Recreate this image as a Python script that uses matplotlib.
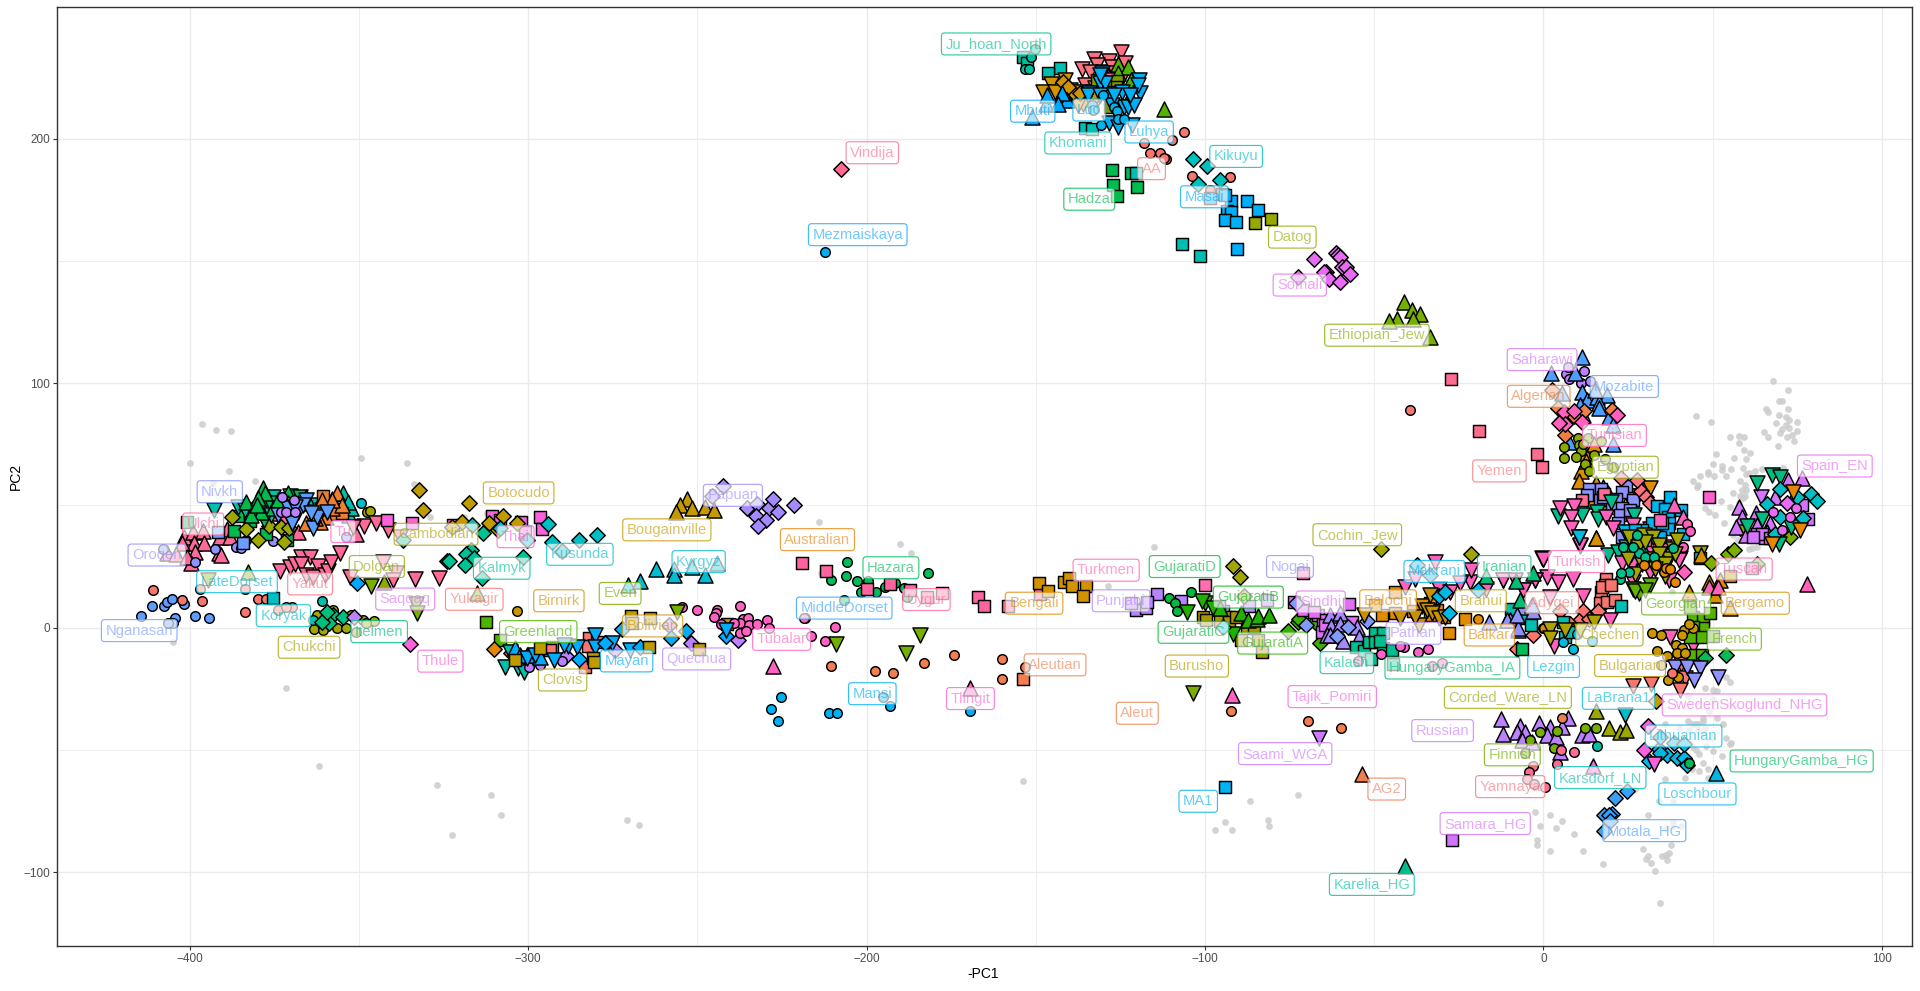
import matplotlib
matplotlib.use('Agg')
import matplotlib.pyplot as plt
from matplotlib.colors import to_rgba

plt.rcParams['font.family'] = ['Liberation Sans', 'DejaVu Sans']

# background samples (small grey dots)
grey_left = [(-396.3,83.2),(-392.1,80.7),(-387.7,80.3),(-399.8,67.2),(-388.3,63.9),(-380.6,59.9),(-393,59.3),
	(-349.3,69.2),(-335.7,67.2),(-333.6,58.9),(-329,45.3),(-318.9,45.4),(-312.2,46.9),(-371.6,-24.5),(-361.8,-56.6),
	(-404.9,-6),(-326.8,-64.4),(-310.9,-68.5),(-307.9,-76.7),(-322.4,-84.9),(-270.7,-78.7),(-267.1,-80.8),(-153.8,-62.6)]
grey_mid = [(-214,43.1),(-190,34.1),(-186.8,30.4),(-128.8,16.9),(-115,32.9),(-213.5,22.5),(-97,-82.6),(-94,-79.6),
	(-92,-82.6),(-86.8,-71),(-81.4,-78.6),(-81,-81),(-72.4,-68.6)]
grey_right = [(67.7,100.7),(72.4,97),(69.7,92.5),(70.4,92.5),(65.9,89.3),(66.5,88.2),(72.4,89.3),(69.7,87.1),(71.6,86.3),
	(72.7,84.8),(74.8,84.3),(68.6,83.6),(71.6,82.7),(70.4,81.4),(72.7,81.5),(74.8,80.3),(65.3,79.9),(70,79.5),(73.3,78.7),
	(66.5,77.8),(71.9,77.8),(73.9,76.2),(69.4,74.2),(45.2,86.4),(49.4,84),(55,77.8),(57.9,78.2),(59.4,77.8),(57.9,75.4),
	(59.4,72.5),(60.9,71.3),(51.1,70.9),(56.4,69.2),(60,68.8),(50.2,66.8),(52.9,66),(55.3,64.8),(52.9,64.4),(48.5,63.5),
	(48.5,62.7),(46.4,61.9),(50.5,61.9),(54,61.9),(59.1,65.2),(60.6,63.1),(60,62.7),(62.4,63.9),(64.5,64.7),(70.9,65.2),
	(44.3,59.8),(45.8,58.2),(45.5,57.6),(58.2,59.8),(59.7,58.2),(58.6,56.2),(60,56.2),(56.1,55),(58.2,53.7),(59.7,54),
	(59,53),(52.6,51.7),(55,49.2),(57.9,50.9),(47.6,48.8),(48.8,47.2),(50.8,46),(53.5,42.7),(56.1,37.8),(57.6,35.7),
	(60.6,32),(61.5,32.4),(63,33),(38.1,14.5)]
grey_low = [(53.8,-20.3),(55,-22.3),(47.6,-24.8),(50.2,-25.6),(51.4,-26),(42.8,-28),(50.2,-29),(48.8,-34.2),(47,-37),
	(42.8,-38.3),(45,-39.5),(47,-38.3),(47.8,-41),(43,-42),(54,-45.2),(55.5,-47),(35.8,-39.5),(44.3,-39.5),(45.8,-39.5),
	(51.4,-37),(53.2,-39.5),(40.2,-41.1),(45.8,-42),(47,-43),(49.7,-45.2),(55,-47.7),(43.4,-47.3),(44.3,-49),(45,-50),
	(48,-48.5),(50.2,-50.5),(52.9,-52.6),(46.1,-51.8),(47,-55.4),(44,-57.9),(46,-58.5),(48.6,-57.9),(36,-62),(41.7,-61.6),
	(48.6,-61.6),(27.2,-66),(34,-71),(38.4,-71),(-2.4,-75.5),(1.8,-76.7),(5.6,-79.2),(-0.9,-81.3),(3.8,-82),(9.1,-84.5),
	(-1.8,-86.9),(-2,-88.9),(1.8,-91.4),(11.8,-91.4),(17.7,-96.7),(31,-76.7),(38.4,-79.6),(40.5,-81.2),(36.3,-82),(38.4,-81),
	(37.8,-89),(29.3,-90.6),(37,-92.2),(36.2,-93),(35,-93.5),(31,-93.5),(30.4,-94.7),(36.5,-95),(31.9,-96.3),(33.1,-99.6),
	(34.3,-112.7)]

# Africa
aa = [(-106.1,202.5),(-109.6,199.3),(-117.9,198),(-116.1,193.9),(-113.2,194.3),(-111.4,191.5),(-112,192),(-103.7,184.9),
	(-92.5,184.1),(-98.4,178.8),(-39.3,89.2)]
hadza = [(-127.4,187),(-122,185.8),(-127.2,181),(-120,180.3),(-125.9,176.4)]
khomani = [(-142.7,228.7),(-146.3,226.7),(-135.4,204.2),(-133.5,203.8),(-120.3,185.8),(-106.8,156.7),(-101.4,151.8)]
juhoan_sq = [(-153.7,233.4),(-152.7,230.8)]
juhoan_ci = [(-151.4,233.2),(-153.2,228.3),(-152,228.3),(-150.2,236.5)]
yoruba = [(-124.8,235.5),(-132.7,232.5),(-128.3,231.9),(-136.3,228.3),(-132,230),(-133.9,227.4),(-130,227.4),(-123.6,230.8),
	(-127.5,229.4),(-130.5,225.3),(-126.5,226.7),(-135.4,221.9),(-128.5,224),(-124.6,224.6),(-132.4,220.5)]
gold_down_af = [(-145.5,222.5),(-148,219.1),(-141.3,224.1),(-144.3,219.1),(-139.8,219.8),(-135.9,214.3),(-137.4,213.6),
	(-132.5,214.3),(-136.9,219.1),(-133,219)]
gold_dia_af = [(-142,223.2),(-139,219.1),(-140.6,221.1),(-136.9,218.7),(-132.9,217)]
green_up_af = [(-125.6,230.7),(-122.6,229.3),(-125.6,226.9),(-122,223.9),(-122.1,217.3),(-112,212.1)]
olive_sq_af = [(-132,223.9),(-126,223.5),(-126.3,221.1),(-128,213),(-129.5,221),(-128.5,219)]
luhya = [(-130.5,226.7),(-131,222.6),(-134.4,218.5),(-124.6,219.2),(-119.3,218.5),(-119.6,224),(-128,217.1),(-124,213),
	(-122.6,212.8),(-121.1,213.7),(-128.5,206.2),(-125.6,204.6),(-121.6,205.6),(-129.5,222.6),(-127.5,213.7),(-119.7,221.9),
	(-134.7,217.7),(-131,225.9),(-131,217.7),(-127,217.7),(-122.1,217.7)]
luo = [(-127,213),(-126,211.4),(-125.7,207.9),(-130.7,205.4),(-124,207.9),(-130,217.8),(-133.4,213.7),(-133,211.7)]
mbuti = [(-151.2,208.9),(-146.9,214.3),(-140.8,215.7),(-142.3,218.7),(-146.7,217.7),(-143.3,214.3)]
masai = [(-92.4,174.6),(-87.6,174.3),(-84.3,170.9),(-93.4,170.4),(-92.2,170.1),(-94,166.8),(-90.7,166),(-90.5,155),
	(-95.1,177.3),(-98.5,175.6),(-94,176.9)]
datog = [(-85.2,165.6),(-80.6,167)]
kikuyu = [(-103.6,191.7),(-99.4,188.8),(-95.7,183),(-102.2,181.3)]
somali = [(-67.9,150.6),(-61.2,153.1),(-60.7,152.4),(-60,151.4),(-59.6,147.4),(-58.3,147.4),(-57.1,144.5),(-64.2,145.3),
	(-64.7,145.3),(-63.4,142.4),(-60,141.2),(-72.4,143.3)]
vindija = [(-207.6,187.7)]
mezmaiskaya = [(-212.4,153.8)]
ethiopian_jew = [(-41.1,133.2),(-38.9,129.8),(-36.4,128.2),(-43.3,126.2),(-38.6,126.3),(-45.5,125.5),(-33.6,118.7)]
yemen = [(-27.3,101.5),(-19,80.6),(-2,71),(-0.5,65.8)]

# north Africa, Near East, Europe
saharawi = [(6.6,103.7),(7.7,101.5),(12.1,104.9),(11.2,100),(13.8,101),(7.4,106.7)]
mozabite = [(11.4,110.5),(2.1,104.2),(9.2,104.2),(5.5,96),(11.4,96.5),(12.8,93),(15.8,94.4),(18.7,95.1),(16.3,91.7),
	(16.4,89.7),(19.5,86),(20.7,82.8),(10.9,91),(11.8,87),(15.3,97.2),(20.5,75),(7.7,76)]
algerian = [(2.4,97.3),(4.2,89.7),(12.1,88.8),(8.9,86.4),(20.2,89.2),(6.5,78.6),(5.4,84.9)]
tunisian = [(6.2,88),(8.9,88.7),(11.5,83.9),(6.5,83.1),(4.7,83.5),(21.7,86.8)]
egyptian = [(10.1,77.4),(6.2,73.7),(10.4,74.5),(11,72.1),(14.8,70.8),(6.2,69.2),(9.5,69.6),(12.4,66.8),(13.6,63.9),
	(13.3,77.4),(17,76.2),(18.3,68.8),(20.7,65.5),(11.8,75.3)]
orange_up_ne = [(11.2,63.9),(10.5,59.8),(14.6,51.9),(15.6,36.5),(12.4,71.3),(12.7,68.3),(15.6,59),(17.7,57.6),(19.2,54.9),(14.8,75.3)]
peri_sq = [(13.5,56.9),(12.8,54.1),(17.1,56.5),(16.8,52.2),(24.4,58),(23.2,55.6),(21.5,52.8),(26.6,52.4),(20.2,48.8),
	(23.2,48.8),(22.7,46),(25.6,48.1),(21.9,42.9),(23.2,37.2),(17.7,53.5)]
gold_tri_ne = [(30,56),(31.5,57),(28,54),(17,50),(19,47),(22,50),(25,54)]
salmon_sq_ne = [(18,54.8),(11.5,52)]
pink_dia_ne = [(28.7,55.9),(30.4,53.3),(31.6,50.8),(23,61),(27.6,60.4)]
turkish = [(5,49),(8.9,49.9),(8,45.4),(8.1,40.6),(10.9,33.4),(18.5,45.4),(20.7,40.6),(26.4,41.8),(31.5,40.2),(-0.3,28.3),
	(35.5,32.8),(31.5,32.4),(40.4,28.3),(23.2,26.3),(26.1,25.6),(31.5,22.9),(40.2,27.6),(37.2,19.5),(26.6,18.8),(-0.2,27.9),
	(1,20.8),(4.4,18.8),(-2.5,19.5),(-11.8,19.5),(-5.9,15.4),(8.7,20.1),(11.8,13),(2,12.6),(19.7,3.1),(37.4,-4),(44.3,-7.5),
	(3.2,-7.5),(10.8,33.8),(-40.8,16.7),(-32,27),(-31,16),(-27.5,14.7),(-21.6,18.5),(-21.4,23.6),(-17,16),(-11.8,19.5),
	(-8.3,19.5),(-5.9,15.4),(-2.4,19.5),(0,27.9),(-37.9,20.1),(-24.6,18.1)]
sweden_salmon_down = [(40.6,-15),(41.7,-20.5),(26.6,-23.9),(31.7,-23.1),(40.4,-25.5)]
teal_down_ne = [(4.3,45.8),(11.3,45.9),(15.8,47.3),(16,44.3),(20,51.2),(26.8,45.9),(24.4,33.1),(26.4,33.4),(29,32.8),(19.2,29.7),
	(22,31),(27,27),(30,31),(34,35)]
cyan_down_ne = [(10.6,37.2),(24.1,39.2),(10.5,37.2)]
blue_sq_ne = [(37.5,53.5),(33.5,49.9),(36,48.4),(40.7,48),(36.7,45.2),(37.1,42.6),(36.7,40.2),(41.1,38.1),(34.5,37.2),(32,43),(35,43),
	(29,40),(31,38),(27,40)]
pink_up_ne = [(38.5,50.1),(41.1,45.2)]
pink_ci_ne = [(42.3,42.2),(43.3,39.4),(41.1,32.8)]
spain_sq = [(49,53.5)]
pink_sq_ne = [(34.5,44),(30,36)]
olive_ne = [(25.4,36.9),(29.6,37.9),(32.5,37.2),(38.2,32.1),(46.3,30.4),(39.4,35.8),(34,34),(28,33),(37,28),(26,30),(29,26),(31,28),
	(34,30),(36,26),(39,30),(27,22),(33,24),(36,21),(30,35),(25,28)]
georgian = [(26.6,16),(28.1,14),(27,15),(31.5,17.4),(30,15.4)]
teal_ci_ne = [(28.1,30.4),(30,28.7),(32.8,29),(25.4,22.6),(22.7,19.7),(22.9,22.2),(27.6,37.9),(23.6,33.1),(26.6,33.1),(38.4,32.4)]
orange_ci_ne = [(29.6,25.6),(33.2,25.7),(35.5,22.9),(36.3,24.5),(37.4,23.8),(38.8,18.8),(-19.2,3.4),(0,-0.3),(0.3,-0.3)]
pink_dia2 = [(41.6,22.9)]
salmon_sq_cau = [(18.5,20),(18.1,17.4),(17,14.7),(17.2,16.7),(19.9,17.4),(16.6,9.9),(18.9,10.6),(21.2,11.5)]
adygei = [(11.8,6.8),(16,6.8),(10.4,2.8),(13.6,3.4),(7.9,1.7),(-3.9,3.8),(-3,-3),(5,7)]
iranian_sq = [(22.9,9),(-9.5,7.5),(-6.1,3.8),(-3.7,1),(5.9,2.4),(6.4,-3.7),(7.7,-1.7),(46.3,28.3)]
lezgin = [(5.9,-6),(8.7,-8.9),(14.3,-5.4),(9.9,-2.6)]
chechen = [(15,2.4),(2,-0.7),(1.8,-4.4),(6.4,-1),(10.8,-1)]
balkar_up = [(-6.4,8.6),(-10.8,3.1),(-7.4,-1),(-3,7),(-9.8,3),(-16.2,2.4),(-10.8,3.1),(-7.4,-0.3),(-7.8,5.2),(-3.4,9.2)]
green_sq_bal = [(-6.4,-8.8)]
orange_tri_bal = [(-7.9,-8.8)]
bergamo = [(43,14.7),(48.8,18.8),(50.7,13.3),(52.2,19.5),(55.2,7.9),(46.6,29.7),(15.6,36.5)]
tuscan = [(48.8,16.7),(51.7,16.7),(77.8,17.7)]
french = [(44.1,4.2),(47,3.5),(49.3,6.1),(47.1,-0.3),(44.3,0.4),(46.5,-4),(43.3,-4),(44.1,-11.2),(46.8,-11.2),(43.4,8.6),(50.2,-3.4)]
bulgarian = [(32,-2),(34.7,-2.8),(33.5,-9.4),(36.6,-11.4),(34.8,-15.3),(36.7,-21.4),(39.2,-7.1),(41.6,-1),(44.1,-0.3),(43,1.7),
	(40.9,-3),(40.9,-8.2),(39.4,-10.3),(41.9,-10.3),(39.7,-20)]
green_dia = [(47.6,-12.3),(53.9,-11.2)]
peri_down = [(38.9,-16),(42.4,-16),(46.3,-16.3),(44.6,-21.4),(51.7,-20)]
salmon_ci = [(38.1,-18.7)]
gold_dia_la = [(33.3,-29.9)]
cyan_down = [(24,-35.7)]
olive_dia_eu = [(54.4,30.1),(56.4,31.7),(49.5,26.3),(63,25.9),(58.1,40.6),(72.9,36.9)]
tuscan_sq = [(61.6,24.2)]
gold_sq_eu = [(55.2,21.1)]

# Spain_EN group
spain_up = [(72.4,60.4),(76.3,61.4),(57.9,49.2),(58.6,45.4),(57,41.3),(62.9,46.7),(63,42),(67,42.6),(68.5,53.3),(60,38),(66,39)]
spain_squares = [(76.4,50),(78.3,44.5),(63,38.5),(65.5,36.5),(64.5,38.5),(62,37.2),(67,36.5)]
violet_down = [(64.3,53.5)]
green_down_eu = [(67.5,62.4),(70,61.7),(63,59.3),(64.5,44.4),(60.1,41.5),(73.1,41),(69.5,34.2)]
teal_dia_eu = [(69.8,56.9),(66.2,50.5),(69.9,45.4),(76.8,44.7),(79,54.6),(80.8,51.6),(74.9,53.5),(68.5,38.3)]
violet_dia_eu = [(72.1,50.8)]
violet_ci_eu = [(67.7,47.5),(74.6,48.8),(73,45.1),(70.6,39.8)]
orange_down_eu = [(73.6,55.6),(75.7,39.9),(67.5,34.2)]

# lower right
russian = [(-12.6,-37.5),(-11.8,-43.6),(-7,-40.2),(-7.8,-42.5),(-5.4,-42.8),(-1.4,-39.1),(2,-40.8),(7.2,-37.1),(5.6,-40.5),
	(-6.3,-45.9),(1,-43.9),(3.7,-44.6),(11.5,-43.9),(13.4,-43.6),(5,-50.7),(-3.4,-46.6)]
finnish = [(-1.1,-42.8),(3.9,-42.4),(-4.1,-46.1),(12.4,-41.2),(15.4,-41.2),(3.2,-49.4),(-5.4,-51.4)]
corded_ware = [(19.3,-41.2),(22.7,-42.8),(24.3,-41.9),(15.6,-34)]
yamnaya = [(5.1,-50.2),(8.9,-51),(3.9,-55.9),(-3.2,-56.7),(-4.4,-59.2),(-4.9,-62),(-2.9,-64),(0.6,-65.3)]
orange_ci2 = [(5.4,-37.1)]
teal_ci2 = [(15.7,-48.5)]
karsdorf = [(14.6,-56.6)]
lithuanian = [(34.2,-49.8),(36.5,-52.1),(31.1,-54.4),(34.5,-51.4),(39.4,-53.5),(41.4,-53.5),(42.4,-56.2),(38.7,-47.3),(41.6,-47.7),(34.5,-44.9)]
green_ci2 = [(43.1,-55.5)]
pink_dia3 = [(30.8,-40.1),(29.6,-50)]
pink_down3 = [(32.7,-55.9)]
loschbour = [(51.1,-59.6)]
motala = [(24.7,-66.9),(21,-69.8),(20.2,-76),(18,-76.6),(19.3,-76.6),(18,-83.2),(19.6,-78.9)]
samara = [(-27,-86.7)]
karelia = [(-40.8,-97.5)]

# Siberia and east Asia
ulchi = [(-401.7,37.2),(-398.9,39.3),(-396,39.7),(-391.1,37.2),(-389.1,40.2),(-388.1,37.2),(-398.7,34.5),(-395.8,34.8),(-402.4,34.5),
	(-398.5,31.1),(-399.6,26.3),(-391.3,30.4),(-390.6,29.7),(-406.8,30.4),(-404.1,30.2),(-400.9,29),(-381.2,48.8),(-375.9,46.8),
	(-367.9,39.3),(-372.3,44.7),(-350.7,38.3)]
oroqen = [(-408,32),(-392.4,32),(-398.3,26.9),(-386.4,32.9),(-384.7,32.5),(-383.4,35.9),(-375.5,35.3),(-353.8,37.2)]
nivkh = [(-384.2,34.5),(-391.6,39.3)]
nganasan = [(-414.3,4.7),(-411.1,8.8),(-407.7,8.8),(-406.8,10.3),(-405.2,11.6),(-401.6,9.6),(-404.3,4),(-404.9,1.8),(-398.4,4.7),(-394.2,3.8),(-406.3,1.8)]
koryak_ci = [(-410.8,15.2),(-402.2,11.2),(-396.3,10.7),(-396.9,15.7),(-383.5,15.7),(-379.7,11.6),(-377.4,11.6),(-383.5,6.3),(-373.8,7.3),(-369.7,8.6),(-371.4,8.3)]
green_sq_as = [(-385.8,45.6),(-382.1,47.2),(-382.1,43.8),(-386.8,39.7),(-377.4,38.3),(-371.1,35.7),(-400.9,43.1)]
olive_dia_as = [(-387.6,45.1),(-383.2,40.4),(-379.7,35.9),(-376.5,41.7),(-373.1,41.3),(-372,35.2),(-370.6,40.9)]
teal_down_as = [(-392.8,48.1),(-385.6,49.5),(-383.7,48.1),(-378.6,49.5),(-378.3,45.4),(-375.3,53.6),(-372.4,50.9),(-369.9,43),
	(-381,47),(-376,46),(-364,50),(-361,48)]
green_down_as = [(-370.4,53.9),(-367.4,53.6),(-373.3,48.8),(-376.3,50.9),(-378,44)]
green_up_as = [(-378.3,57),(-377.8,55),(-383.2,51.5),(-379.7,52.9),(-370.9,55),(-375.3,48.8),(-379,47.5),(-382,46),(-380,50),(-374,52),(-371,51),(-368,51)]
teal_up_as = [(-361.5,49.5),(-357.8,52.5),(-354.6,55),(-352.8,46.1),(-352.2,48.8),(-353.1,51.5),(-365.5,53.6)]
blue_down_as = [(-367.9,47.5),(-369.9,43),(-363.5,40.6),(-365.5,52.2),(-366.4,50.2),(-362.5,45.4),(-359.5,47.5),(-364,46.8),(-374,46),(-371,49),(-369,49.5)]
violet_ci_as = [(-372.8,53.6),(-369.1,52),(-373.1,47.5),(-371.6,47.2),(-368.9,47.5)]
orange_sq_as = [(-360.5,54),(-357.1,46.4),(-355,47)]
orange_up_as = [(-364,43.8),(-359.8,45.1),(-357.8,48.8),(-356.4,55),(-355.1,50.2),(-365.5,42.7),(-361.5,43.4),(-358,52),(-361,52),(-363,45)]
cyan_ci_as = [(-349.3,50.9)]
olive_ci_as = [(-347.7,47.2),(-346.7,47.9)]
yakut = [(-373.3,23.2),(-370.2,25),(-368.9,26),(-367,29),(-364.5,29),(-367,26),(-362,25.2),(-365.5,21.6),(-363.5,20.9),(-360,21.6),
	(-359.1,23.2),(-358.1,27),(-355.6,30.7),(-352.6,20.9),(-342.8,27),(-338.9,22.2),(-340,19.5),(-333.4,19.8),(-326.3,20.2),
	(-348.5,41.7),(-345,43),(-341.3,40),(-337.9,37.2),(-351.7,41.3)]
blue_dia_as = [(-350.5,18.2)]
even_down = [(-346.5,17.2),(-333,9.7),(-332.7,5.9),(-394.7,19.5)]
even_up = [(-342.5,18.8),(-315.2,14.1),(-382.7,22.9)]
thai_sq = [(-341.6,44.2),(-334.4,42.8),(-322.1,42),(-310.8,45.7),(-308.3,44),(-302.1,43.4),(-296.5,45.1),(-296,40.4),(-301,39.3)]
botocudo = [(-332.2,56.3),(-331,48),(-317.4,50.9),(-307.5,45.7),(-311.5,42.7),(-319.4,43.4),(-322.6,41.3),(-303.4,42.7),(-308.8,40)]
kalmyk = [(-313.3,38.6),(-317,31.8),(-318.2,30.1),(-324.1,27.3),(-323.3,27.3),(-318.5,25.7),(-316,28.6),(-313.5,20.2),(-301.4,29),(-337,35.9)]
kusunda = [(-308.3,40.6),(-316.7,42),(-294,42.4),(-300.3,36),(-293,35),(-285,36),(-279.7,38),(-290,31.5)]
koryak_sq = [(-375.3,12.3)]
koryak_teal = [(-360.8,10.7),(-363.5,3.2),(-361.3,2),(-359.5,6.6)]
chukchi = [(-363.2,-0.7),(-360.5,-0.9),(-357.6,7.3),(-356.6,-0.2),(-353.9,-0.2),(-358.5,6),(-362.5,5.2),(-348.7,3.2),(-345.6,2.9),
	(-347.9,1.8),(-352.2,5.2),(-355.1,4.5),(-350.7,-1.6)]
itelmen = [(-357.6,5.2),(-354.6,4.3),(-358.8,1.8),(-361,2.5),(-359.5,6.6)]
violet_dia_as = [(-351.4,4.5)]
birnirk = [(-303.2,6.7)]
greenland = [(-312.4,2.3),(-308.2,-4.9)]
thule = [(-334.8,-6.8)]
orange_dia_am = [(-310,-8.6),(-304.9,-10.2)]

# Americas
blue_up_am = [(-300.4,-11.2),(-296.6,-11.9),(-303.8,-8.5),(-302.4,-11.2)]
mayan = [(-292.3,-13.2),(-288.3,-7.5),(-285.4,-8),(-280.2,-3),(-280.2,-7.8),(-275.3,-6.4),(-269.8,-9.1),(-300.4,-12.6),(-289.5,-7.1),(-298,-11)]
blue_dia_am = [(-285.1,-13),(-277.2,-6.4),(-272.3,-0.6),(-253.3,-1.2),(-257.9,-4.4),(-266.9,-8),(-241.6,-3.4)]
blue_down2 = [(-241.6,-1)]
teal_down_am = [(-306.9,-16.2),(-302.9,-16.6),(-301.1,-18),(-305.3,-9.8)]
salmon_sq_am = [(-292.8,-8),(-293.5,-9.1),(-281.9,-4.4),(-282.2,-7.5),(-279.7,-5.7),(-283.1,-16)]
gold_sq_am = [(-304,-13.2),(-296.4,-8.3),(-280.7,-12.6),(-280.4,-13.9),(-264.4,-8),(-269.5,4.9),(-249.6,-8.9),(-269.2,2),(-264,4),(-241.1,1.5)]
quechua_dia = [(-288.8,-11.5),(-252,-6.1),(-238.1,-5.2),(-274.3,-9.1),(-258.5,1.1)]
quechua_ci = [(-290,-13.5),(-299.6,-16),(-296.6,-15.3)]
tubalar = [(-254.4,8.3),(-250,7.1),(-244.2,7.2),(-244.4,5.8),(-245.2,4.5),(-243.1,1.4),(-237.5,8.8),(-236.4,3.4),(-234.9,3.8),(-237.3,1.8),
	(-234.6,1.2),(-232.4,1.5),(-229.5,3.1),(-228.9,-0.3),(-237.5,-2),(-235.6,-1.2),(-239.3,1.8),(-218.3,3.8),(-218.4,3.8),(-209.2,0.4),
	(-216.3,-3.6),(-212.4,-5.6)]
olive_down_am = [(-255.9,6.3),(-209.1,-6.8),(-184.3,-3),(-188.3,-10.5)]
pink_up_am = [(-227.5,-15.6),(-169.3,-24.5)]
mansi = [(-225.3,-28.5),(-228.1,-33.4),(-226.3,-38.3),(-211,-35),(-208.8,-35),(-193.2,-32),(-195,-28.5),(-169.3,-34)]
kyrgyz = [(-270.6,17.5),(-267,19),(-262.3,24),(-256.9,24),(-251.5,25),(-256.9,21.5),(-244.2,26.5),(-247.8,21.5)]
bougainville = [(-252.9,52.6),(-255,50),(-251.5,49),(-247.8,49.5),(-245,48),(-256.2,47.5)]
papuan = [(-235.2,49),(-232.3,50.5),(-228.7,49),(-232.8,45.5),(-229.6,44),(-226.1,47.5),(-221.4,50),(-227.6,52.5),(-232,41.5),(-242.4,58),(-245.7,54)]

# central and south Asia
yellow_sq = [(-219.1,26.3),(-211.9,23.3),(-199.9,15.7),(-193.2,17.7),(-187.1,15.4),(-182.2,12.7),(-177.7,14),(-167.2,12.5),(-165.4,8.8),(-158.3,8.7),(-148.7,13.8)]
hazara = [(-205.9,26.7),(-206.2,21),(-210.6,19.3),(-202.9,18.9),(-199.6,18.9),(-201.6,14.4),(-197.3,14.4),(-194.6,16.7),(-191.7,18.1),(-189,16.1),(-181.7,22.2),(-206.8,11.2),(-188,12.7)]
bengali = [(-148.9,18.1),(-146.5,14.8),(-141.6,18.5),(-140.3,20.2),(-139.3,17),(-135.3,16.9),(-136.1,12.8)]
punjabi = [(-114.1,13.7),(-107,11),(-120.5,7.2),(-117.5,7.9),(-117.2,10.6),(-122,10),(-94.7,6.9),(-96,9),(-87,9),(-81.7,11.3)]
gujarati_d = [(-110.5,12),(-108.8,9.9),(-108.3,6.7),(-104,14.4)]
gujarati_down = [(-105.3,6.2),(-99.9,9.9),(-97.5,7.9),(-91.6,-2.7),(-100.9,10.9)]
gujarati_up = [(-89.3,6.1),(-87.4,3.1),(-84.7,3.5),(-84.2,4.9),(-81.1,5.2),(-95.5,7.9)]
aleutian = [(-210.6,-15.8),(-197.6,-17.9),(-192.3,-18.7),(-182.9,-14.6),(-174.1,-11.3),(-160.1,-13),(-153.3,-16.2),(-160,-21.1),(-92.4,-34.2),(-69.7,-38.3),(-59.8,-41.2)]
aleutian_sq = [(-153.9,-21.1)]
burusho_dia = [(-91.6,25.3),(-89.8,20.8),(-48.1,32.3),(-21.5,30.1),(-88.6,12.9)]
pink_sq_sa = [(-100.1,17.6),(-70.9,22.5)]
burusho_down = [(-103.6,-26.9)]
tajik_up = [(-92.1,-27.6)]
saami = [(-66.3,-45.3)]
ag2 = [(-53.5,-60)]
ma1 = [(-94,-65)]
gujarati_sq = [(-100.6,4.5),(-99.6,3.1),(-95.7,2.7),(-93,4.5),(-93,2.4),(-87.6,-0.3),(-85.5,0.1),(-89.4,-5),(-84.2,-5),(-83.2,-9.8),(-90.8,4.5)]
green_dia_sa = [(-75.5,-1.3),(-72.4,2.4),(-72.1,3.7),(-67.4,2.4),(-66.1,-6.2)]
nogai_dia = [(-70.2,1),(-61,-3.4),(-57.6,0.4),(-52,2.7),(-73.1,9.9)]
sindhi = [(-57.3,9.7),(-73.8,10.6),(-66.5,5.2),(-65,3.1),(-65.5,-1.7),(-56.6,2.4),(-64.5,1),(-70.9,7.2),(-67.9,6.5)]
pathan = [(-63.2,5.2),(-60.1,5.8),(-62.8,0.7),(-64,-3),(-59.1,-5.3),(-55.1,0.4),(-54.6,-3.7),(-60,1.7),(-63.2,-3)]
kalash = [(-55.5,-8),(-52.9,-9.6),(-51.4,-5.7),(-49.7,-2.3),(-47.4,-2.3),(-49.7,-5.7),(-47.4,-8.5),(-50.9,-12.8),(-44.8,-9.2),(-44.3,-14.9),(-48.2,-5.3)]
pink_ci_sa = [(-48,-10.9),(-41.3,-8),(-37.2,-10),(-34.2,-8.9),(-42.3,-7.5),(-54.9,-13.5),(-33,-15.7),(-30,-14.3)]
balochi = [(-28,-2.3),(-43.8,14.7),(-38.4,6.9),(-47.7,5.2),(-33.4,9.9),(-31.5,7.2),(-33.4,5.2),(-29.5,4.5),(-23.1,3.4),(-49.7,9.2),(-43.8,5.8)]
brahui = [(-35.9,8.8),(-34.4,7.2),(-33,5.8),(-31,3.8),(-36.9,1.1),(-42.3,3.8),(-53.1,5.2),(-33.4,13.3),(-29,4.5),(-37.9,4.5)]
makrani = [(-31,12.9),(-28,5.8),(-29,14.7),(-37.4,25.6),(-33.4,21.5),(-19.2,15.4),(-94.7,0.1)]
iranian_up = [(-6.9,11.3),(-3,22.2),(-8,19),(-17,21)]

# (points, colour, marker) in drawing order
groups = [
	(aa,'#F8766D','o'),(hadza,'#00BB4E','s'),(khomani,'#00BFB2','s'),(juhoan_sq,'#00BF9C','s'),(juhoan_ci,'#00BF9C','o'),
	(yoruba,'#FC717F','v'),(gold_down_af,'#CF9400','v'),(gold_dia_af,'#CF9400','D'),(green_up_af,'#53B400','^'),(olive_sq_af,'#7F9900','s'),
	(luhya,'#00B0F6','v'),(luo,'#00B4EF','o'),(mbuti,'#00A9FF','^'),(masai,'#00AEF9','s'),(datog,'#97A800','s'),(kikuyu,'#00C0BB','D'),
	(somali,'#E76BF3','D'),(vindija,'#FF6C91','D'),(mezmaiskaya,'#00B0F6','o'),(ethiopian_jew,'#75AF00','^'),(yemen,'#FF6C91','s'),
	(saharawi,'#BC81FF','o'),(mozabite,'#4C9EFF','^'),(algerian,'#EF7F49','D'),(tunisian,'#FF62BC','D'),(orange_up_ne,'#DE8C00','^'),
	(egyptian,'#8BAB00','o'),(gold_tri_ne,'#DE8C00','v'),(peri_sq,'#8F93FF','s'),(salmon_sq_ne,'#FF6C91','s'),(pink_dia_ne,'#FC717F','D'),
	(teal_down_ne,'#00BF8C','v'),(turkish,'#FF62BC','v'),(sweden_salmon_down,'#F8766D','v'),(cyan_down_ne,'#00BAE0','v'),
	(blue_sq_ne,'#00B4F0','s'),(pink_sq_ne,'#FF62BC','s'),(pink_up_ne,'#FF62BC','^'),(pink_ci_ne,'#FF62BC','o'),(spain_sq,'#FF5FD0','s'),
	(olive_ne,'#A3A500','v'),(georgian,'#60B200','v'),(teal_ci_ne,'#00BF8C','o'),(orange_ci_ne,'#E58700','o'),(pink_dia2,'#FF62BC','D'),
	(salmon_sq_cau,'#F8766D','s'),(adygei,'#F8766D','D'),(iranian_sq,'#00BFB2','s'),(lezgin,'#00BAE0','o'),(chechen,'#ADA200','v'),
	(balkar_up,'#8F93FF','^'),(orange_tri_bal,'#F8766D','D'),(green_sq_bal,'#00BC59','s'),(bergamo,'#D89000','^'),(tuscan,'#FF62BC','^'),
	(french,'#53B400','s'),(bulgarian,'#CB9700','o'),(green_dia,'#00BC59','D'),(peri_down,'#8F93FF','v'),(salmon_ci,'#F8766D','o'),
	(gold_dia_la,'#C99800','D'),(cyan_down,'#00BBC9','v'),(olive_dia_eu,'#7CAE00','D'),(tuscan_sq,'#FF66A8','s'),(gold_sq_eu,'#B79F00','s'),
	(spain_up,'#D575FE','^'),(spain_squares,'#D575FE','s'),(violet_down,'#D575FE','v'),(green_down_eu,'#00BC80','v'),(teal_dia_eu,'#00BFC4','D'),
	(violet_dia_eu,'#E76BF3','D'),(violet_ci_eu,'#E76BF3','o'),(orange_down_eu,'#E58700','v'),
	(russian,'#BC81FF','^'),(finnish,'#75AF00','o'),(corded_ware,'#9CA700','^'),(yamnaya,'#FF6C91','o'),(orange_ci2,'#F07E50','o'),
	(teal_ci2,'#00C0AB','o'),(karsdorf,'#FA62DB','^'),(lithuanian,'#00B9E3','D'),(green_ci2,'#00BC59','o'),(pink_dia3,'#FA62DB','D'),
	(pink_down3,'#FA62DB','v'),(loschbour,'#00B7E7','^'),(motala,'#35A2FF','D'),(samara,'#D275FB','s'),(karelia,'#00BF8C','^'),
	(ulchi,'#FF6A98','^'),(oroqen,'#8F93FF','o'),(nivkh,'#6E9CFF','s'),(nganasan,'#619CFF','o'),(koryak_ci,'#F8766D','o'),
	(green_sq_as,'#00BA4E','s'),(olive_dia_as,'#9CA700','D'),(teal_down_as,'#00BFAB','v'),(green_down_as,'#00BA5E','v'),(green_up_as,'#00BA4E','^'),
	(teal_up_as,'#00BFAB','^'),(orange_sq_as,'#EF7F30','s'),(orange_up_as,'#EF7F30','^'),(blue_down_as,'#5C9EFF','v'),(violet_ci_as,'#BC81FF','o'),
	(cyan_ci_as,'#00BFC4','o'),(olive_ci_as,'#A3A500','o'),(yakut,'#FF6A98','v'),(blue_dia_as,'#00A9FF','D'),(even_down,'#7CAE00','v'),
	(even_up,'#8BAB00','^'),(thai_sq,'#FA62DB','s'),(botocudo,'#C09B00','D'),(kalmyk,'#00C094','D'),(kusunda,'#00BFC4','D'),
	(koryak_sq,'#00BFC4','s'),(chukchi,'#A3A500','o'),(koryak_teal,'#00BFAB','o'),(itelmen,'#00BF7D','D'),(violet_dia_as,'#BC81FF','D'),
	(birnirk,'#C99800','o'),(greenland,'#4CB500','s'),(thule,'#FA62DB','D'),(orange_dia_am,'#E58700','D'),
	(teal_down_am,'#00C0AB','v'),(quechua_dia,'#BC81FF','D'),(quechua_ci,'#BC81FF','o'),(blue_up_am,'#00ACFC','^'),(salmon_sq_am,'#F8766D','s'),
	(mayan,'#00ACFC','v'),(blue_dia_am,'#00ACFC','D'),(gold_sq_am,'#C09B00','s'),(tubalar,'#FF62C2','o'),(blue_down2,'#00ACFC','v'),
	(olive_down_am,'#75AF00','v'),(pink_up_am,'#FF62C2','^'),(mansi,'#00B0F6','o'),(kyrgyz,'#00BDD4','^'),(bougainville,'#C49A00','^'),(papuan,'#A58AFF','D'),
	(hazara,'#00BC59','o'),(yellow_sq,'#FF64A0','s'),(bengali,'#D39200','s'),(punjabi,'#B584FF','s'),(gujarati_d,'#00BA42','o'),
	(gujarati_sq,'#A89500','s'),(gujarati_down,'#1FB000','v'),(gujarati_up,'#1FB000','^'),(aleutian,'#F07E50','o'),(aleutian_sq,'#F07E50','s'),
	(burusho_dia,'#A3A500','D'),(pink_sq_sa,'#FF6EB0','s'),(burusho_down,'#7CAE00','v'),(tajik_up,'#FF62C2','^'),(saami,'#CE78FF','v'),
	(ag2,'#F07E50','^'),(ma1,'#00B3F1','s'),(green_dia_sa,'#38B000','D'),(sindhi,'#E26EF5','s'),(pathan,'#A58AFF','^'),(nogai_dia,'#7F9BFF','D'),
	(kalash,'#00BF8C','s'),(pink_ci_sa,'#FF61C9','o'),(balochi,'#E08B00','s'),(brahui,'#C79100','v'),(iranian_up,'#00BE75','^'),(makrani,'#00B8E7','D'),
]

label_names = ['AA','Adygei','AG2','Aleut','Aleutian','Algerian','Australian','Balkar','Balochi','Bengali','Bergamo','Birnirk','Bolivian',
	'Botocudo','Bougainville','Brahui','Bulgarian','Burusho','Cambodian','Chechen','Chukchi','Clovis','Cochin_Jew','Corded_Ware_LN','Datog',
	'Dolgan','Egyptian','Ethiopian_Jew','Even','Finnish','French','Georgian','Greenland','GujaratiA','GujaratiB','GujaratiC','GujaratiD',
	'Hadza','Hazara','HungaryGamba_HG','HungaryGamba_IA','Iranian','Itelmen','Ju_hoan_North','Kalash','Kalmyk','Karelia_HG','Karsdorf_LN',
	'Khomani','Kikuyu','Koryak','Kusunda','Kyrgyz','LaBrana1','LateDorset','Lezgin','Lithuanian','Loschbour','Luhya','Luo','MA1','Makrani',
	'Mansi','Masai','Mayan','Mbuti','Mezmaiskaya','MiddleDorset','Motala_HG','Mozabite','Nganasan','Nivkh','Nogai','Oroqen','Papuan','Pathan',
	'Punjabi','Quechua','Russian','Saami_WGA','Saharawi','Samara_HG','Saqqaq','Sindhi','Somali','Spain_EN','SwedenSkoglund_NHG','Tajik_Pomiri',
	'Thai','Thule','Tlingit','Tu','Tubalar','Tunisian','Turkish','Turkmen','Tuscan','Ulchi','Uygur','Vindija','Yakut','Yamnaya','Yemen','Yukagir']
label_x = [-115.8,2.5,-46.3,-120,-144.3,-1.4,-214.5,-16,-45.9,-150.5,62.6,-290.9,-263.2,-302.8,-259,-18.5,25.6,-102.4,-327.2,19.5,-364.7,-289.8,
	-55,-10.5,-74.2,-344.7,24.2,-49.2,-272.8,-9.2,56.4,39.2,-297,-80,-87.2,-103.4,-106,-134.2,-192.8,76.3,-26.9,-11.6,-344,-161.7,-58.1,-307.8,
	-50.7,16.8,-137.5,-90.8,-372.3,-284.7,-249.6,22.2,-386,3,41.4,45.5,-116.5,-134.2,-102,-32.2,-198.3,-100.2,-270.9,-150.9,-202.6,-206.6,29.8,
	23.9,-414.9,-391.1,-74.9,-409.7,-239.5,-38.4,-124.8,-250.2,-29.8,-76.3,-0.4,-17.2,-336.3,-65.8,-72,86.1,59.4,-62.4,-303.7,-325.9,-169.3,
	-354.6,-225.1,21,9.8,-129.2,59.3,-396,-182.3,-198.3,-364.4,-9.8,-13,-315.9]
label_y = [187.7,10.2,-66,-35,-15.2,94.6,36,-3,11,10,10,11,0.7,55.1,40,11,-15.5,-15.7,38.2,-3,-8,-21.4,38,-28.5,159.7,25,65.6,119.6,14,-52,-4.7,
	9.7,-1.6,-6.3,12.5,-1.9,25,175.2,24.5,-54.5,-16.5,25,-1.6,238.7,-14.3,24.3,-105,-61.3,198.2,192.7,4.9,30,27,-28.9,18.8,-15.9,-44.3,-68,202.7,
	211.7,-71,23,-27,176.2,-13.6,211.2,160.7,8,-83,98.6,-1.2,55.6,25,29.7,54.1,-2.3,11,-12.8,-42.1,-51.5,109.6,-80.1,11.7,10.5,140.1,66.1,-31.6,
	-28.2,37.2,-13.7,-29,39.3,-4.8,78.6,27,23.5,24,42.4,11.5,194.2,17.9,-65,64.1,11.6]
label_cols = ['#F8766D','#F8766D','#F37B59','#EE7F4B','#F07E50','#EC8239','#E68613','#E38900','#E08B00','#DC8D00','#D89000','#CF9400','#CB9700',
	'#C99800','#C49A00','#BF9C00','#BB9D00','#B79F00','#B3A000','#ADA200','#A9A400','#A5A500','#A0A600','#9CA700','#97A800','#93AA00','#8BAB00',
	'#80AD00','#7CAE00','#75AF00','#6EB100','#60B200','#4CB500','#2CB600','#00B81F','#00BA38','#00BA42','#00BB4E','#00BC59','#00BD64','#00BE6C',
	'#00BE75','#00BF7D','#00BF8C','#00C094','#00C19C','#00C0A3','#00C0AB','#00C0B2','#00C0BB','#00BFC4','#00BFCC','#00BDD4','#00BCD8','#00BBDA',
	'#00BAE0','#00B9E3','#00B7E7','#00B6EB','#00B4EF','#00B3F1','#00B2F3','#00B0F6','#00AEF9','#00ACFC','#00A9FF','#1AA7FF','#35A2FF','#4C9EFF',
	'#619CFF','#7799FF','#8496FF','#8F93FF','#9590FF','#A58AFF','#AE87FF','#B584FF','#BC81FF','#C77CFF','#CE78FF','#D275FB','#D874F9','#DD71F7',
	'#E26EF5','#E76BF3','#EB69F0','#F066EA','#F564E3','#FA62DB','#FC61D5','#FE61CF','#FF62C8','#FF62C2','#FF62BC','#FF63B6','#FF64B0','#FF66A8',
	'#FF68A1','#FF6A98','#FF6C91','#FD6F86','#FC717F','#FA7476','#F8766D']

marker_size = {'o': 48, 's': 68, 'D': 62, '^': 118, 'v': 118}

fig = plt.figure(figsize=(19.2, 9.91), dpi=100)
ax = fig.add_axes([57.3/1920, 1 - 946.3/991, (1912-57.3)/1920, (946.3-7.5)/991])

for pts in (grey_left, grey_mid, grey_right, grey_low):
	ax.scatter([p[0] for p in pts], [p[1] for p in pts], s=24, c='#CCCCCC', alpha=0.85, linewidths=0, zorder=2)

for i, (pts, col, mk) in enumerate(groups):
	ax.scatter([p[0] for p in pts], [p[1] for p in pts], s=marker_size[mk], c=col, marker=mk,
		edgecolors='black', linewidths=1.05, zorder=3 + i*0.001)

for name, lx, ly, col in zip(label_names, label_x, label_y, label_cols):
	ax.text(lx, ly, name, fontsize=10.6, color=to_rgba(col, 0.62), ha='center', va='center', zorder=5,
		bbox=dict(boxstyle='round,pad=0.27,rounding_size=0.22', fc=(1, 1, 1, 0.68), ec=to_rgba(col, 0.8), lw=0.85))

ax.set_xlim(-439.1, 108.9)
ax.set_ylim(-130.3, 253.6)
ax.set_xticks([-400, -300, -200, -100, 0, 100])
ax.set_yticks([-100, 0, 100, 200])
ax.set_xticks([-350, -250, -150, -50, 50], minor=True)
ax.set_yticks([-50, 50, 150], minor=True)
ax.tick_params(axis='both', which='major', length=3, width=0.8, color='#333333', labelcolor='#4D4D4D', labelsize=8.5, pad=2)
ax.tick_params(axis='both', which='minor', length=0)
ax.grid(True, which='major', color='#EBEBEB', lw=1.0, zorder=0)
ax.grid(True, which='minor', color='#EBEBEB', lw=0.6, zorder=0)
ax.set_axisbelow(True)
for sp in ax.spines.values():
	sp.set_color('#333333')
	sp.set_linewidth(1.0)

fig.text(983/1920, 1 - 974/991, '-PC1', fontsize=10, ha='center', va='center')
fig.text(16/1920, 1 - 476/991, 'PC2', fontsize=10, rotation=90, ha='center', va='center')

fig.savefig('out.png', dpi=100)
